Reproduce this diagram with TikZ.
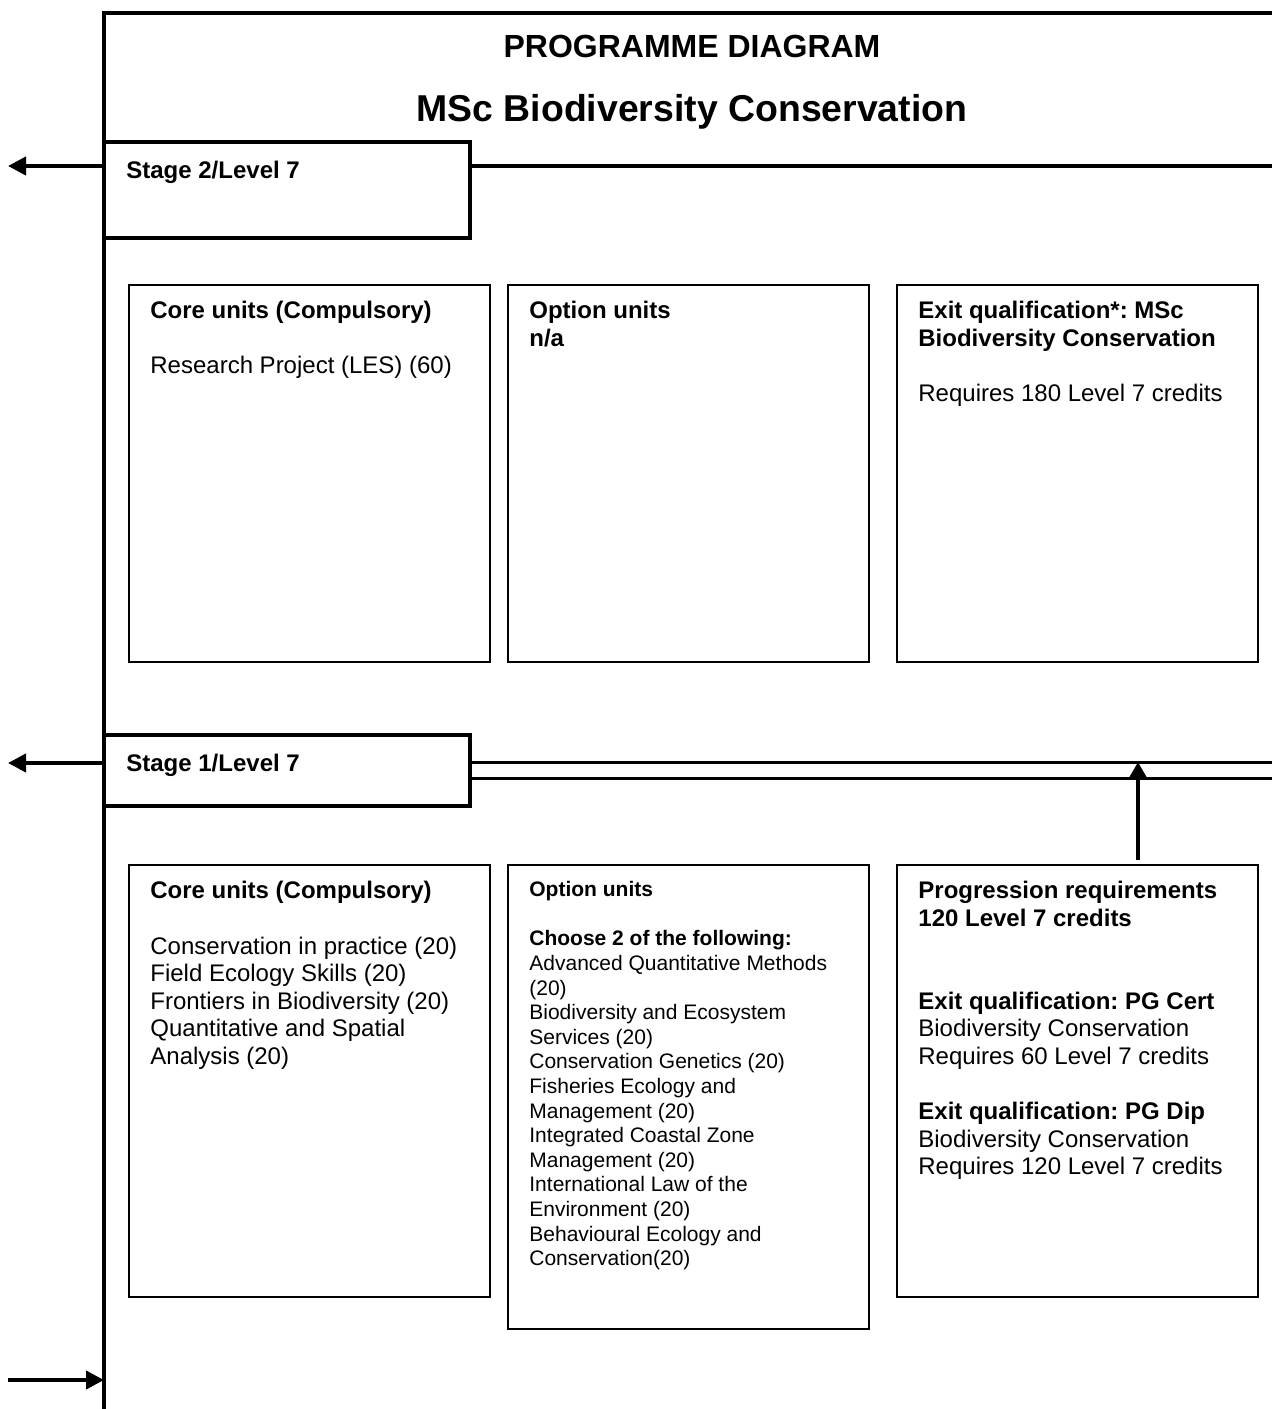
\documentclass[tikz,border=0pt]{standalone}
\usepackage{fontspec}
\setmainfont{Liberation Sans}
\usetikzlibrary{arrows.meta}
\frenchspacing

\begin{document}
\begin{tikzpicture}[x=0.5pt, y=-0.5pt]

    %--- Styles
    \tikzstyle{frame line}=[line width=2pt]
    \tikzstyle{thin line}=[line width=1.5pt]
    \tikzstyle{exit arrow}=[line width=2pt, -{Triangle[length=9pt, width=9pt]}]
    \tikzstyle{up arrow}=[line width=2pt, -{Triangle[length=8pt, width=8.5pt]}]
    \tikzstyle{stage box}=[draw, line width=2pt, minimum width=183pt, anchor=north west, inner sep=0pt, outer sep=0pt]
    \tikzstyle{unit box}=[draw, line width=1pt, minimum width=180.5pt, anchor=north west, inner sep=0pt, outer sep=0pt]
    \tikzstyle{stage label}=[anchor=base west, inner sep=0pt, font=\bfseries\fontsize{12}{13.8}\selectfont]
    \tikzstyle{unit text}=[anchor=north west, inner sep=0pt, align=left, font=\fontsize{12}{13.8}\selectfont]
    \tikzstyle{small text}=[anchor=north west, inner sep=0pt, align=left, font=\fontsize{10.5}{12.3}\selectfont]

    \useasboundingbox (0,0) rectangle (1272,1409);

    %--- Frame
    \coordinate (top left) at (104,13);
    \coordinate (top right) at (1272,13);
    \coordinate (bottom left) at (104,1409);
    \draw[frame line] (top right) -- (top left) -- (bottom left);

    %--- Titles
    \node[anchor=base, inner sep=0pt, font=\bfseries\fontsize{16}{19}\selectfont] (title) at (692,57) {PROGRAMME DIAGRAM};
    \node[anchor=base, inner sep=0pt, font=\bfseries\fontsize{18.7}{22}\selectfont] (subtitle) at (692,121) {MSc Biodiversity Conservation};

    %--- Stage 2
    \node[stage box, minimum height=48pt] (stage2) at (104,142) {};
    \node[stage label] (stage2 label) at ([shift={(22,36)}]stage2.north west) {Stage 2/Level 7};
    \coordinate (s2 right) at (1272,166);
    \coordinate (s2 out) at (8,166);
    \draw[frame line] (stage2.east |- s2 right) -- (s2 right);
    \draw[exit arrow] (stage2.west |- s2 out) -- (s2 out);

    \node[unit box, minimum height=188.5pt] (core2) at (129,285) {};
    \node[unit box, minimum height=188.5pt] (option2) at (508,285) {};
    \node[unit box, minimum height=188.5pt] (exit2) at (897,285) {};

    \node[unit text] (core2 text) at ([shift={(21,16)}]core2.north west)
        {\textbf{Core units (Compulsory)}\\[13.8pt]
         Research Project (LES) (60)};
    \node[unit text] (option2 text) at ([shift={(21,16)}]option2.north west)
        {\textbf{Option units}\\
         \textbf{n/a}};
    \node[unit text] (exit2 text) at ([shift={(21,16)}]exit2.north west)
        {\textbf{Exit qualification*: MSc}\\
         \textbf{Biodiversity Conservation}\\[13.8pt]
         Requires 180 Level 7 credits};

    %--- Stage 1
    \node[stage box, minimum height=35.5pt] (stage1) at (104,735) {};
    \node[stage label] (stage1 label) at ([shift={(22,36)}]stage1.north west) {Stage 1/Level 7};
    \coordinate (s1 upper) at (1272,762);
    \coordinate (s1 lower) at (1272,778);
    \coordinate (s1 out) at (8,763);
    \draw[thin line] (stage1.east |- s1 upper) -- (s1 upper);
    \draw[thin line] (stage1.east |- s1 lower) -- (s1 lower);
    \draw[exit arrow] (stage1.west |- s1 out) -- (s1 out);

    \node[unit box, minimum height=216pt] (core1) at (129,865) {};
    \node[unit box, minimum height=232pt] (option1) at (508,865) {};
    \node[unit box, minimum height=216pt] (prog1) at (897,865) {};

    \node[unit text] (core1 text) at ([shift={(21,16)}]core1.north west)
        {\textbf{Core units (Compulsory)}\\[13.8pt]
         Conservation in practice (20)\\
         Field Ecology Skills (20)\\
         Frontiers in Biodiversity (20)\\
         Quantitative and Spatial\\
         Analysis (20)};
    \node[small text] (option1 text) at ([shift={(21,16)}]option1.north west)
        {\textbf{Option units}\\[12.3pt]
         \textbf{Choose 2 of the following:}\\
         Advanced Quantitative Methods\\
         (20)\\
         Biodiversity and Ecosystem\\
         Services (20)\\
         Conservation Genetics (20)\\
         Fisheries Ecology and\\
         Management (20)\\
         Integrated Coastal Zone\\
         Management (20)\\
         International Law of the\\
         Environment (20)\\
         Behavioural Ecology and\\
         Conservation(20)};
    \node[unit text] (prog1 text) at ([shift={(21,16)}]prog1.north west)
        {\textbf{Progression requirements}\\
         \textbf{120 Level 7 credits}\\[27.6pt]
         \textbf{Exit qualification: PG Cert}\\
         Biodiversity Conservation\\
         Requires 60 Level 7 credits\\[13.8pt]
         \textbf{Exit qualification: PG Dip}\\
         Biodiversity Conservation\\
         Requires 120 Level 7 credits};

    % progression arrow up to stage 2
    \coordinate (prog top) at (1138,860);
    \draw[up arrow] (prog top) -- (prog top |- s1 upper);

    %--- Entry arrow
    \coordinate (entry) at (8,1380);
    \draw[exit arrow] (entry) -- (entry -| bottom left);

\end{tikzpicture}
\end{document}
